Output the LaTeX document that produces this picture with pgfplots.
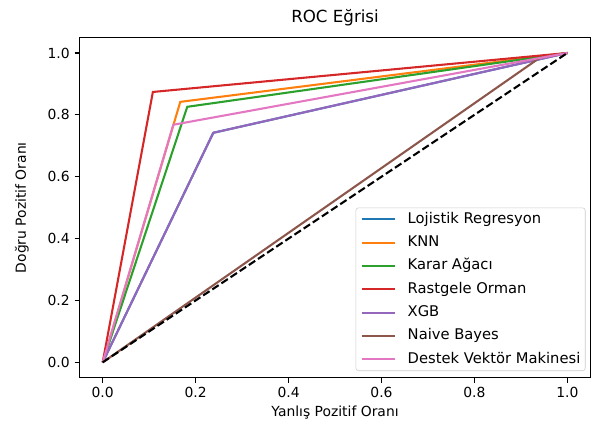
\documentclass[border=0pt]{standalone}
\usepackage{fontspec}
\setmainfont{DejaVu Sans}
\usepackage{pgfplots}
\pgfplotsset{compat=1.18}
\definecolor{tblue}{HTML}{1F77B4}
\definecolor{torange}{HTML}{FF7F0E}
\definecolor{tgreen}{HTML}{2CA02C}
\definecolor{tred}{HTML}{D62728}
\definecolor{tpurple}{HTML}{9467BD}
\definecolor{tbrown}{HTML}{8C564B}
\definecolor{tpink}{HTML}{E377C2}
\begin{document}
\begin{tikzpicture}
\begin{axis}[
  name=ax,
  scale only axis,
  width=368pt, height=245pt,
  xmin=-0.05, xmax=1.05, ymin=-0.05, ymax=1.05,
  xtick={0,0.2,0.4,0.6,0.8,1.0},
  ytick={0,0.2,0.4,0.6,0.8,1.0},
  xticklabels={0.0,0.2,0.4,0.6,0.8,1.0},
  yticklabels={0.0,0.2,0.4,0.6,0.8,1.0},
  tick align=outside,
  xtick pos=left, ytick pos=left,
  major tick length=3.5pt,
  tick style={black, line width=0.8pt},
  axis line style={line width=0.8pt},
  ticklabel style={font=\fontsize{10}{12}\selectfont},
  title={ROC Eğrisi},
  title style={font=\fontsize{12}{14}\selectfont, at={(axis description cs:0.5,1)}, anchor=base, yshift=5pt},
  xlabel={Yanlış Pozitif Oranı},
  ylabel={Doğru Pozitif Oranı},
  xlabel style={font=\fontsize{10}{12}\selectfont, at={(axis description cs:0.5,0)}, anchor=center, yshift=-25pt},
  ylabel style={font=\fontsize{10}{12}\selectfont, at={(axis description cs:-0.1125,0.5)}, anchor=center},
  legend cell align=left,
  legend style={
    at={(0.99,0.02)}, anchor=south east,
    font=\fontsize{10.6}{12}\selectfont,
    draw=black!20, rounded corners=2pt, fill=white, fill opacity=0.8, text opacity=1,
    inner xsep=3.5pt, inner ysep=3pt,
    row sep=6.3pt, column sep=8.6pt,
    nodes={inner sep=0pt, text height=8pt, text depth=2.5pt},
  },
  legend image code/.code={\draw[#1, line width=1.5pt] (0pt,0pt) -- (23.8pt,0pt);},
  every axis plot/.append style={line width=1.5pt},
]
\addplot[tblue] coordinates {(0,0) (0.238,0.742) (1,1)};
\addlegendentry{Lojistik Regresyon}
\addplot[torange] coordinates {(0,0) (0.167,0.842) (1,1)};
\addlegendentry{KNN}
\addplot[tgreen] coordinates {(0,0) (0.182,0.826) (1,1)};
\addlegendentry{Karar Ağacı}
\addplot[tred] coordinates {(0,0) (0.108,0.874) (1,1)};
\addlegendentry{Rastgele Orman}
\addplot[tpurple] coordinates {(0,0) (0.238,0.742) (1,1)};
\addlegendentry{XGB}
\addplot[tbrown] coordinates {(0,0) (0.94,0.984) (1,1)};
\addlegendentry{Naive Bayes}
\addplot[tpink] coordinates {(0,0) (0.152,0.768) (1,1)};
\addlegendentry{Destek Vektör Makinesi}
\addplot[black, dash pattern=on 5.5pt off 2.4pt, forget plot] coordinates {(0,0) (1,1)};
\end{axis}
\path (ax.south west) ++(-57.2pt,-34pt) rectangle ++(426.9pt,306pt);
\end{tikzpicture}
\end{document}
